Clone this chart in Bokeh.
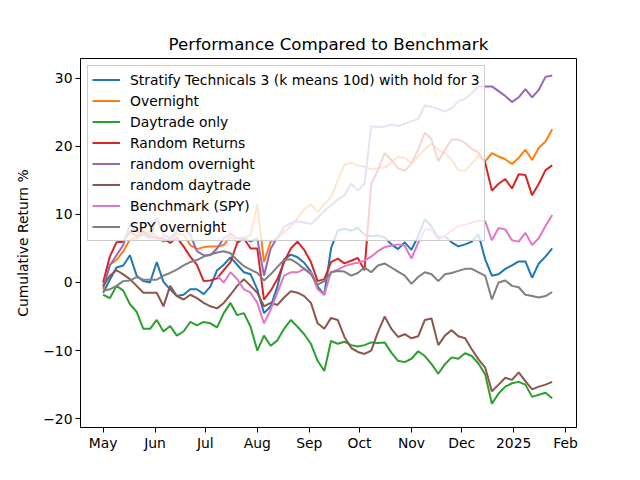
import pandas as pd
from bokeh.plotting import figure
from bokeh.models import Legend, LegendItem, FixedTicker, Range1d, ColumnDataSource, CustomJSTickFormatter
from bokeh.embed import file_html
from bokeh.resources import INLINE

nan = float("nan")

# sampling dates (every 4 calendar days from 1 May 2024)
dates = pd.date_range("2024-05-01", periods=68, freq="4D")

stratify = [-1.5, 0.4, 2.2, 2.5, 4.0, 1.0, 0.2, 0.0, 3.0, 0.1,
            -1.0, -2.0, -1.8, -1.0, -1.0, -1.7, -0.6, 1.8, 2.6, 3.7,
            2.6, 1.5, 1.2, -1.0, -4.5, -3.5, -0.6, 3.4, 4.1, 3.7,
            2.9, 1.6, -0.6, -1.8, 5.0, 7.6, 7.9, 7.6, 8.0, 7.0,
            6.8, 6.9, 6.6, 5.6, 4.9, 5.9, 4.8, 6.8, 9.3, 8.2,
            6.6, 6.8, 5.9, 5.3, 5.6, 6.0, 7.1, 3.4, 1.0, 1.2,
            2.0, 2.5, 3.1, 3.1, 0.7, 2.8, 3.8, 5.0]

overnight = [-1.0, 2.6, 3.3, 4.6, 6.3, 6.5, 7.0, 7.5, 6.8, 6.0,
             6.3, 7.2, 7.0, 5.5, 4.9, 5.2, 5.3, 5.3, 5.5, 6.8,
             6.0, 6.5, 7.0, 11.5, 3.0, 6.0, 6.5, 7.5, 8.2, 9.5,
             10.7, 11.5, 10.3, 11.5, 12.5, 15.0, 17.3, 17.6, 17.2, 17.0,
             16.6, 16.8, 16.9, 17.6, 18.5, 18.3, 17.5, 18.5, 19.6, 20.4,
             19.5, 19.0, 18.0, 16.5, 16.4, 17.5, 18.6, 17.8, 19.0, 18.5,
             18.1, 17.4, 18.3, 19.5, 18.0, 19.8, 20.7, 22.5]

daytrade = [-1.8, -2.3, -0.5, -1.2, -3.2, -4.3, -6.8, -6.8, -5.5, -7.2,
            -6.4, -7.8, -7.2, -5.8, -6.3, -5.8, -6.0, -6.6, -4.5, -3.0,
            -4.8, -4.5, -6.5, -10.0, -7.8, -9.3, -8.5, -6.8, -5.5, -6.5,
            -7.6, -9.0, -11.5, -13.0, -8.6, -9.0, -8.7, -9.2, -9.4, -9.2,
            -8.8, -8.9, -8.8, -10.3, -11.5, -11.7, -11.2, -10.1, -10.8, -12.0,
            -13.4, -12.0, -11.0, -11.2, -10.4, -10.8, -11.9, -13.5, -17.8, -16.3,
            -15.3, -14.8, -14.6, -15.0, -16.8, -16.5, -16.2, -17.0]

random_returns = [0.0, 3.8, 5.9, 6.0, 7.5, 6.8, 7.5, 6.8, 6.5, 6.5,
                  5.8, 6.6, 5.3, 3.8, 2.6, 0.2, 0.3, 0.6, 1.8, 3.0,
                  5.8, 6.5, 5.0, 5.0, -2.5, -1.2, 0.5, 3.0, 5.0, 6.0,
                  4.8, 3.0, 0.2, 0.5, 3.0, 3.5, 2.8, 3.2, 3.6, 1.8,
                  14.5, 16.5, 19.0, 18.0, 16.8, 16.4, 17.5, 19.5, 22.0, 21.0,
                  17.8, 19.5, 21.0, 21.0, 20.5, 19.6, 19.1, 17.6, 13.5, 14.5,
                  15.2, 13.8, 15.9, 15.8, 12.8, 14.5, 16.5, 17.2]

random_overnight = [-0.7, 2.5, 4.0, 5.5, 8.5, 7.5, 7.0, 6.5, 9.5, 7.0,
                    6.5, 7.5, 8.0, 7.0, 4.6, 4.0, 4.0, 5.0, 6.5, 7.2,
                    6.5, 6.6, 6.0, 6.5, 1.0, 5.0, 6.6, 8.2, 8.7, 9.0,
                    8.8, 8.6, 9.5, 10.5, 11.3, 12.2, 12.8, 14.5, 13.5, 14.5,
                    23.0, 22.8, 22.9, 23.2, 23.0, 23.3, 23.7, 24.0, 26.0, 25.8,
                    25.5, 25.1, 25.6, 26.6, 27.0, 27.8, 28.8, 28.8, 28.8, 28.1,
                    27.4, 26.5, 27.2, 28.4, 27.2, 28.3, 30.2, 30.4]

random_daytrade = [-0.5, 1.0, 1.8, 1.2, 0.5, -0.5, -1.5, -1.5, -1.5, -3.5,
                   -0.5, -2.0, -2.5, -1.8, -2.3, -3.0, -3.5, -3.8, -3.0, -1.8,
                   -0.5, 0.5, -0.5, -1.5, -3.5, -3.0, -3.3, -2.2, -1.3, -1.5,
                   -2.0, -3.0, -6.0, -6.8, -5.2, -5.5, -8.0, -9.6, -10.2, -10.5,
                   -10.0, -7.3, -5.0, -6.8, -8.0, -7.6, -8.2, -7.9, -5.5, -5.3,
                   -9.2, -7.8, -7.0, -7.9, -8.2, -9.8, -11.3, -12.5, -16.0, -15.0,
                   -14.0, -14.3, -13.2, -14.5, -15.7, -15.3, -15.0, -14.6]

benchmark = [nan] * 17 + [
    1.0, 0.0, 1.5, 0.5, -1.0, -1.5, -3.0, -6.0, -4.0, -1.5,
    1.0, 1.5, 1.5, 2.0, 1.5, -1.0, -1.8, 1.5, 1.9, 2.4,
    2.7, 2.9, 3.2, 3.8, 4.6, 5.2, 5.4, 5.6, 5.4, 3.5,
    5.8, 7.8, 7.8, 6.3, 6.8, 7.6, 8.3, 8.5, 8.8, 9.1,
    9.0, 6.2, 8.0, 7.8, 6.2, 6.0, 7.3, 5.5, 6.5, 8.3,
    9.9]

spy_overnight = [-1.2, -1.0, -0.5, 0.2, 0.3, 0.8, 0.4, 0.4, 0.4, 1.0,
                 1.4, 1.9, 2.5, 3.0, 3.3, 3.8, 4.1, 4.4, 4.6, 4.3,
                 3.3, 2.4, 1.9, 1.4, 0.3, 1.2, 2.3, 3.3, 3.4, 2.8,
                 2.0, 1.2, -0.3, 0.2, 1.5, 1.7, 1.6, 1.0, 1.4, 2.2,
                 1.5, 2.5, 2.8, 2.2, 1.6, 1.0, -0.2, 0.8, 1.5, 1.2,
                 0.2, 1.2, 1.4, 1.7, 2.0, 2.0, 1.5, 1.0, -2.5, 0.0,
                 0.3, -0.5, -0.7, -1.8, -2.0, -2.2, -2.0, -1.4]

series_names = ["Stratify Technicals 3 (k means 10d) with hold for 3", "Overnight", "Daytrade only",
                "Random Returns", "random overnight", "random daytrade", "Benchmark (SPY)", "SPY overnight"]
series_values = [stratify, overnight, daytrade, random_returns, random_overnight,
                 random_daytrade, benchmark, spy_overnight]
colors = ["#1f77b4", "#ff7f0e", "#2ca02c", "#d62728", "#9467bd", "#8c564b", "#e377c2", "#7f7f7f"]

tick_dates = ["2024-05-01", "2024-06-01", "2024-07-01", "2024-08-01", "2024-09-01",
              "2024-10-01", "2024-11-01", "2024-12-01", "2025-01-01", "2025-02-01"]
tick_labels = ["May", "Jun", "Jul", "Aug", "Sep", "Oct", "Nov", "Dec", "2025", "Feb"]
y_ticks = [-20, -10, 0, 10, 20, 30]


def ms(s):
    return pd.Timestamp(s).value / 1e6


FONT = "DejaVu Sans"

p = figure(width=632, height=472, output_backend="svg", toolbar_location=None,
           x_range=Range1d(ms("2024-04-17 12:00"), ms("2025-02-07 12:00")),
           y_range=Range1d(-21.3, 32.9),
           min_border_left=80, min_border_right=56, min_border_top=58, min_border_bottom=45)

p.title.text = "Performance Compared to Benchmark"
p.title.text_font = FONT
p.title.text_font_size = "16.7px"
p.title.text_font_style = "normal"
p.title.align = "center"
p.title.text_color = "black"

items = []
xs = [d.value / 1e6 for d in dates]
for name, vals, c in zip(series_names, series_values, colors):
    src = ColumnDataSource(dict(x=xs, y=vals))
    r = p.line("x", "y", source=src, line_color=c, line_width=2)
    items.append(LegendItem(label=name, renderers=[r]))

tick_ms = [ms(d) for d in tick_dates]
p.xaxis.ticker = FixedTicker(ticks=tick_ms)
p.xaxis.formatter = CustomJSTickFormatter(args=dict(tvals=tick_ms, tlabels=tick_labels), code="""
    for (let i = 0; i < tvals.length; i++) { if (Math.abs(tvals[i] - tick) < 1) return tlabels[i]; }
    return '';
""")
p.yaxis.ticker = FixedTicker(ticks=y_ticks)
p.yaxis.axis_label = "Cumulative Return %"

for ax in [p.xaxis[0], p.yaxis[0]]:
    ax.major_label_text_font = FONT
    ax.major_label_text_font_size = "13.9px"
    ax.major_label_text_color = "black"
    ax.axis_label_text_font = FONT
    ax.axis_label_text_font_size = "13.9px"
    ax.axis_label_text_font_style = "normal"
    ax.axis_label_text_color = "black"
    ax.axis_line_color = "black"
    ax.major_tick_line_color = "black"
    ax.major_tick_out = 5
    ax.major_tick_in = 0
    ax.minor_tick_line_color = None
    ax.major_label_standoff = 3
p.xaxis.major_label_standoff = 2
p.yaxis.axis_label_standoff = 9

p.xgrid.visible = False
p.ygrid.visible = False
p.outline_line_color = "black"
p.outline_line_alpha = 1

legend = Legend(items=items, location="top_left",
                label_text_font=FONT, label_text_font_size="13.9px", label_text_color="black",
                border_line_color="#cccccc", border_line_alpha=1, border_line_width=1,
                background_fill_color="white", background_fill_alpha=0.8,
                glyph_width=28, glyph_height=19, label_height=19, spacing=2,
                padding=4, margin=7, label_standoff=10)
p.add_layout(legend)

open("out.html", "w").write(file_html(p, INLINE))
